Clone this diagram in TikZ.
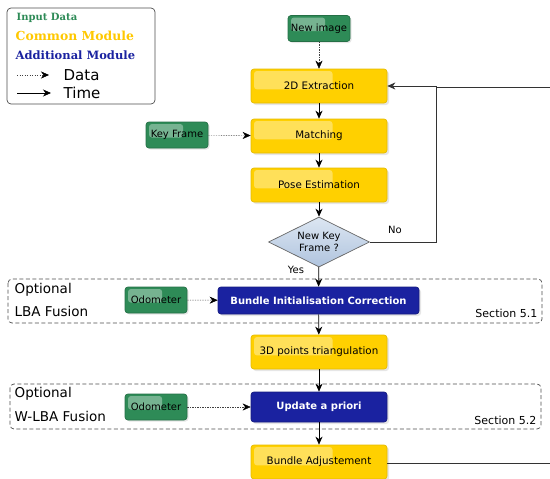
\documentclass[tikz,border=0pt]{standalone}
\usepackage{fontspec}
\setmainfont{DejaVu Sans}
\newfontfamily\legfont{DejaVu Serif}
\usetikzlibrary{arrows.meta,shapes.geometric,shadows,calc}
\definecolor{inputgreen}{HTML}{2E8B57}
\definecolor{commonyellow}{HTML}{FFD000}
\definecolor{addblue}{HTML}{1A22A0}
\definecolor{legyellow}{HTML}{FFC800}
\definecolor{kftop}{HTML}{DCE6F2}
\definecolor{kfbot}{HTML}{B0C4DE}
\tikzset{
	gloss/.style={path picture={\fill[white,opacity=0.35,rounded corners=3pt]
		([shift={(3pt,-2pt)}]path picture bounding box.north west) rectangle
		($(path picture bounding box.north west)!0.6!(path picture bounding box.south east)$);}},
	inputbox/.style={draw=inputgreen!80!black,fill=inputgreen,rounded corners=3pt,gloss,
		minimum width=62pt,minimum height=26pt,inner sep=1pt,font=\fontsize{10}{12}\selectfont,
		drop shadow={opacity=0.2,shadow xshift=1.5pt,shadow yshift=-1.5pt}},
	commonbox/.style={draw=commonyellow!90!black,fill=commonyellow,rounded corners=3pt,gloss,
		minimum width=136pt,minimum height=34pt,font=\fontsize{10.3}{12}\selectfont,
		drop shadow={opacity=0.2,shadow xshift=2pt,shadow yshift=-2pt}},
	addbox/.style={draw=addblue!80!black,fill=addblue,rounded corners=3pt,text=white,
		minimum height=27pt,font=\bfseries\fontsize{10}{12}\selectfont,
		drop shadow={opacity=0.2,shadow xshift=2pt,shadow yshift=-2pt}},
	datafl/.style={line width=0.4pt,black!75,dash pattern=on 1.2pt off 1.3pt,
		-{Stealth[length=8pt,width=7pt,inset=2.5pt,color=black]}},
	timefl/.style={-{Stealth[length=8pt,width=7pt,inset=2.5pt]}},
	optbox/.style={draw=black!70,dash pattern=on 4pt off 2.5pt,rounded corners=4pt},
}
\begin{document}
\begin{tikzpicture}[x=1pt,y=-1pt,line width=0.7pt]
	\useasboundingbox (0,0) rectangle (550,479);
	% legend
	\draw[black!70,rounded corners=4pt] (7,8) rectangle (155,104);
	\node[anchor=west,text=inputgreen,font=\legfont\bfseries\fontsize{10}{12}\selectfont] (legin) at (13,18) {Input Data};
	\node[anchor=west,text=legyellow,font=\legfont\bfseries\fontsize{12.4}{14}\selectfont] (legco) at (12,36) {Common Module};
	\node[anchor=west,text=addblue,font=\legfont\bfseries\fontsize{11.5}{13}\selectfont] (legad) at (12,55) {Additional Module};
	\coordinate (dA) at (17,75);
	\coordinate (dB) at (49,75);
	\coordinate (tA) at (17,93);
	\coordinate (tB) at (51,93);
	\draw[datafl] (dA) -- (dB);
	\draw[timefl] (tA) -- (tB);
	\node[anchor=west,font=\fontsize{15}{17}\selectfont] (legdata) at (60,75) {Data};
	\node[anchor=west,font=\fontsize{15}{17}\selectfont] (legtime) at (60,93) {Time};
	% optional boxes
	\draw[optbox] (8,279) rectangle (542,323);
	\node[anchor=west,font=\fontsize{13.5}{15}\selectfont] (opt1) at (11,290) {Optional};
	\node[anchor=west,font=\fontsize{13.5}{15}\selectfont] (lba) at (11,311) {LBA Fusion};
	\node[anchor=east,font=\fontsize{11}{13}\selectfont] (sec1) at (541,313) {Section 5.1};
	\draw[optbox] (10,384) rectangle (541,429);
	\node[anchor=west,font=\fontsize{13.5}{15}\selectfont] (opt2) at (11,394) {Optional};
	\node[anchor=west,font=\fontsize{13.5}{15}\selectfont] (wlba) at (11,416) {W-LBA Fusion};
	\node[anchor=east,font=\fontsize{11}{13}\selectfont] (sec2) at (540,420) {Section 5.2};
	% modules
	\node[inputbox] (newimg) at (319,28.5) {New image};
	\node[commonbox] (extr) at (319,86) {2D Extraction};
	\node[commonbox] (match) at (319,136) {Matching};
	\node[inputbox] (keyfr) at (177,135) {Key Frame};
	\node[commonbox] (pose) at (319,185) {Pose Estimation};
	\node[diamond,draw=black!60,top color=kftop,bottom color=kfbot,
		minimum width=101pt,minimum height=50pt,inner sep=0pt,aspect=2,align=center,
		font=\fontsize{10}{12}\selectfont] (newkf) at (319,242) {New Key\\Frame ?};
	\node[inputbox] (odo1) at (156,300) {Odometer};
	\node[addbox,minimum width=201pt] (bic) at (318.5,300.5) {Bundle Initialisation Correction};
	\node[commonbox] (tri) at (319,352) {3D points triangulation};
	\node[inputbox] (odo2) at (156,407) {Odometer};
	\node[addbox,minimum width=136pt,minimum height=30pt] (upd) at (319,407) {Update a priori};
	\node[commonbox] (ba) at (319,462) {Bundle Adjustement};
	\coordinate (loopc) at (436,242);
	\coordinate (rin) at (550,87);
	\coordinate (rout) at (550,463);
	% flows
	\draw[datafl] (newimg) -- (extr);
	\draw[datafl] (keyfr) -- (match);
	\draw[datafl] (odo1) -- (bic);
	\draw[datafl] (odo2) -- (upd);
	\draw[timefl] (extr) -- (match);
	\draw[timefl] (match) -- (pose);
	\draw[timefl] (pose) -- (newkf);
	\draw[timefl] (newkf) -- (bic);
	\draw[timefl] (bic) -- (tri);
	\draw[timefl] (tri) -- (upd);
	\draw[timefl] (upd) -- (ba);
	\draw[timefl,black!80] (newkf.east) -- (loopc) |- (extr.east);
	\draw[black!80] (rin) -- (rin -| loopc);
	\draw[black!80] (ba.east |- rout) -- (rout);
	\node[font=\fontsize{10}{12}\selectfont] (no) at (395,230) {No};
	\node[font=\fontsize{10}{12}\selectfont] (yes) at (296,270) {Yes};
\end{tikzpicture}
\end{document}
